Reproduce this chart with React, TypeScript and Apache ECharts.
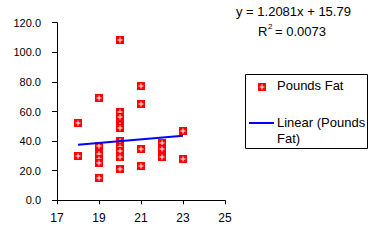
import React, { useEffect, useRef } from "react";
import * as echarts from "echarts";

const xValues = [18, 18, 19, 19, 19, 19, 19, 19, 20, 20, 20, 20, 20, 20, 20, 20, 20, 20, 20, 21, 21, 21, 21, 22, 22, 22, 23, 23];
const yValues = [52, 30, 69, 37, 31, 28, 25, 15, 108, 60, 56, 51, 49, 40, 38, 36, 33, 29, 21, 77, 65, 35, 23, 39, 35, 29, 47, 28];
const trendX = [18, 23];
const trendY = [37.54, 43.58];
const equationText = "y = 1.2081x + 15.79";
const r2Text = "= 0.0073";
const seriesName = "Pounds Fat";
const trendName = "Linear (Pounds Fat)";

const FONT = "'Liberation Sans', Arial, sans-serif";

function markerChildren(cx: number, cy: number) {
  return [
    { type: "rect", shape: { x: cx - 4, y: cy - 4, width: 8, height: 8 }, style: { fill: "#FF0000" } },
    { type: "rect", shape: { x: cx - 2.5, y: cy - 0.5, width: 5, height: 1 }, style: { fill: "#FFFFFF" } },
    { type: "rect", shape: { x: cx - 0.5, y: cy - 2.5, width: 1, height: 5 }, style: { fill: "#FFFFFF" } },
  ];
}

export default function App() {
  const ref = useRef<HTMLDivElement>(null);
  useEffect(() => {
    if (!ref.current) return;
    const chart = echarts.init(ref.current, undefined, { renderer: "svg" });
    const pts = xValues.map((x, i) => [x, yValues[i]]);
    chart.setOption({
      animation: false,
      backgroundColor: "#FFFFFF",
      grid: { left: 57, right: 149, top: 22.7, bottom: 42.7, containLabel: false },
      xAxis: {
        type: "value",
        min: 17,
        max: 25,
        interval: 2,
        splitLine: { show: false },
        axisLine: { show: true, onZero: false, lineStyle: { color: "#000", width: 1 } },
        axisTick: { show: true, length: 4, lineStyle: { color: "#000" } },
        axisLabel: { color: "#000", fontFamily: FONT, fontSize: 12, margin: 12 },
      },
      yAxis: {
        type: "value",
        min: 0,
        max: 120,
        interval: 20,
        splitLine: { show: false },
        axisLine: { show: true, lineStyle: { color: "#000", width: 1 } },
        axisTick: { show: true, length: 5, lineStyle: { color: "#000" } },
        axisLabel: {
          color: "#000",
          fontFamily: FONT,
          fontSize: 11,
          margin: 16,
          formatter: (v: number) => v.toFixed(1),
        },
      },
      series: [
        {
          name: trendName,
          type: "line",
          data: trendX.map((x, i) => [x, trendY[i]]),
          symbol: "none",
          lineStyle: { color: "#0000FF", width: 2 },
          z: 3,
        },
        {
          name: seriesName,
          type: "custom",
          data: pts,
          z: 2,
          renderItem: (params: any, api: any) => {
            const p = api.coord([api.value(0), api.value(1)]);
            const cx = Math.round(p[0]);
            const cy = Math.round(p[1]);
            return { type: "group", children: markerChildren(cx, cy) };
          },
        },
      ],
      graphic: [
        { type: "text", left: 236, top: 5, style: { text: equationText, fontFamily: FONT, fontSize: 13, fill: "#000" } },
        { type: "text", left: 258, top: 25, style: { text: "R", fontFamily: FONT, fontSize: 13, fill: "#000" } },
        { type: "text", left: 268, top: 22, style: { text: "2", fontFamily: FONT, fontSize: 8, fill: "#000" } },
        { type: "text", left: 275, top: 25, style: { text: r2Text, fontFamily: FONT, fontSize: 13, fill: "#000" } },
        { type: "rect", shape: { x: 245.5, y: 74.5, width: 122, height: 74 }, style: { fill: "#FFFFFF", stroke: "#000", lineWidth: 1 } },
        { type: "group", children: markerChildren(262, 87) },
        { type: "text", left: 277, top: 79, style: { text: "Pounds Fat", fontFamily: FONT, fontSize: 13, fill: "#000" } },
        { type: "line", shape: { x1: 249, y1: 123, x2: 274, y2: 123 }, style: { stroke: "#0000FF", lineWidth: 2 } },
        { type: "text", left: 277, top: 116, style: { text: "Linear (Pounds", fontFamily: FONT, fontSize: 13, fill: "#000" } },
        { type: "text", left: 277, top: 132, style: { text: "Fat)", fontFamily: FONT, fontSize: 13, fill: "#000" } },
      ],
    });
    return () => chart.dispose();
  }, []);
  return <div ref={ref} style={{ width: 374, height: 243, position: "absolute", left: 0, top: 0 }} />;
}
